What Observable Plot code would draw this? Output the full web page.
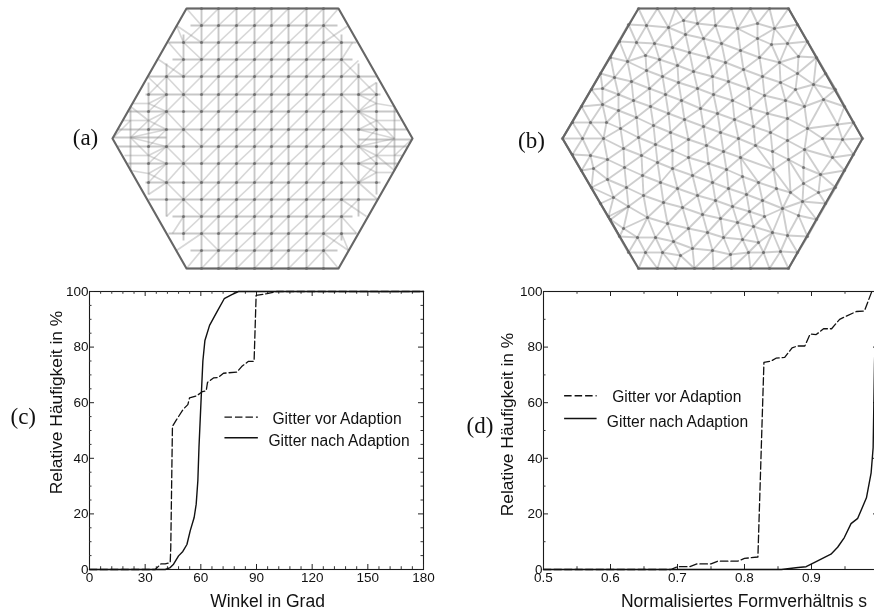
<!DOCTYPE html>
<html><head><meta charset="utf-8">
<script src="https://cdn.jsdelivr.net/npm/d3@7"></script>
<script src="https://cdn.jsdelivr.net/npm/@observablehq/plot@0.6"></script>
<style>
html,body{margin:0;padding:0;background:#fff;overflow:hidden}
#page{position:relative;width:874px;height:611px;overflow:hidden;background:#fff}
#page>svg,#page>figure{position:absolute;margin:0;background:transparent}
text{fill:#111}
</style></head><body><div id="page"></div>
<script>
// ---- mesh (a)
const hexA = [[112,138],[186,8],[338,8],[412,138],[338,268],[186,268],[112,138]];
const colSpansA = [[148,82,194],[166,63,216],[183,34,240],[201,8,268],[218,8,268],[236,8,268],[254,8,268],[271,8,268],[288,8,268],[306,8,268],[323,8,268],[341,34,240],[358,63,216],[376,82,194]];
const rowSpansA = [[8,186,338],[25,190,337],[42,168,356],[59,172,352],[76,148,377],[94,145,380],[111,127,397],[129,117,407],[146,117,407],[163,127,397],[182,145,380],[199,148,377],[216,172,352],[233,168,356],[250,190,337],[268,186,338]];
const centreRowsA = [[112,137,166,137],[358,139,412,139],[130,106,130,170],[394,106,394,170]];
const backslashCellsA = [[183,42],[166,76],[183,94],[166,111],[183,129],[166,146],[183,163],[166,182],[183,199],[201,233],[341,216],[358,182],[341,163],[358,146],[341,129],[358,111],[341,94],[358,76],[341,59],[323,25]];
const fanLinksA = [[186,8,201,25],[176,25,183,42],[176,25,201,42],[168,42,183,59],[158,59,183,76],[147,76,166,94],[148,103,166,94],[148,103,166,111],[148,120,166,111],[148,120,166,129],[148,103,132,103],[148,120,122,120],[130,106,148,120],[112,138,130,120],[130,137,148,120],[130,137,148,155],[130,137,166,146],[130,137,166,129],[148,155,166,146],[148,155,166,163],[148,173,166,163],[148,173,166,182],[148,173,130,170],[148,155,124,155],[148,194,166,182],[166,216,183,199],[172,233,183,216],[176,250,201,233],[186,268,201,250],
  [338,268,323,250],[348,250,341,233],[348,250,323,233],[356,233,341,216],[366,216,341,199],[377,199,358,182],[376,172,358,182],[376,172,358,163],[376,155,358,163],[376,155,358,146],[376,172,392,172],[376,155,402,155],[394,170,376,155],[412,138,394,155],[394,138,376,155],[394,138,376,120],[394,138,358,129],[394,138,358,146],[376,120,358,129],[376,120,358,111],[376,103,358,111],[376,103,358,94],[376,103,394,106],[376,120,400,120],[376,82,358,94],[358,60,341,76],[352,42,341,59],[348,25,323,42],[338,8,323,25]];

// ---- mesh (b)
const hexB = [[562,138],[638,8],[788,8],[862,138],[788,268],[638,268],[562,138]];
const nodesB = [
[638,8],[657,8],[675,8],[694,8],[713,8],[731,8],[750,8],[769,8],[788,8],
[797,24],[807,41],[816,57],[825,73],[835,89],[844,106],[853,122],[862,138],
[853,154],[844,170],[835,187],[825,203],[816,219],[807,236],[797,252],[788,268],
[769,268],[750,268],[731,268],[713,268],[694,268],[675,268],[657,268],[638,268],
[628,252],[619,236],[610,219],[600,203],[591,187],[581,170],[572,154],[562,138],
[572,122],[581,106],[591,89],[600,73],[610,57],[619,41],[628,24],
[646,25],[668,27],[683,20],[697,23],[636,42],[654,43],[672,47],[685,34],[703,38],
[645,55],[627,61],[659,59],[689,52],[708,57],[677,65],[614,77],[631,81],[646,70],[662,76],[678,82],[693,71],[712,76],
[602,88],[618,94],[633,100],[649,88],[665,94],[681,100],[697,88],[602,104],[618,110],[636,117],[650,106],[668,113],[684,119],[700,108],
[590,122],[606,122],[620,128],[653,125],[703,126],[670,132],[688,139],[706,145],
[715,25],[737,28],[757,23],[774,28],[721,43],[740,50],[757,38],[771,44],[787,43],[725,62],[743,69],[759,57],[779,62],[797,73],[798,56],
[728,81],[748,88],[762,76],[780,82],[813,84],[795,89],[713,94],[732,100],[750,108],[764,95],[785,100],[804,106],[823,99],
[717,113],[734,119],[753,126],[767,113],[787,118],[807,128],[837,124],[720,132],[770,132],
[582,138],[603,138],[590,155],[607,159],[623,148],[638,137],[655,144],[672,150],[688,157],[593,168],[624,167],[641,155],[657,162],[672,168],
[607,179],[642,175],[626,187],[660,182],[677,188],[692,175],[708,163],[613,197],[643,195],[663,202],[682,207],[697,195],[712,182],
[628,206],[647,217],[667,223],[702,214],[608,216],[623,228],[637,237],[655,237],[673,241],[692,248],[707,232],[645,252],[662,252],[680,255],[712,250],[688,228],
[723,151],[740,157],[726,169],[742,176],[758,182],[773,169],[755,145],[772,151],[788,159],[803,167],[820,174],[832,157],[803,183],[818,192],[776,188],
[728,188],[746,194],[762,200],[782,208],[802,201],[790,192],[715,200],[732,206],[749,211],[764,216],[798,215],[720,218],[737,222],[753,226],[772,232],
[723,237],[742,239],[758,242],[787,235],[730,254],[748,252],[763,252],[780,251],[738,138],[787,140],[804,149],[822,138],[842,139]
];

// ---- chart (c): angle distribution
const anglesBefore = [[0,0],[35.4,0],[38.5,2],[40.8,2],[43.5,2.5],[43.8,8],[44.7,51.5],[47,54],[50.6,57.7],[53,59.3],[53.9,61.7],[57.8,62.5],[60.9,64],[62.9,64.3],[63.6,67.3],[66.8,68.9],[69.5,69.1],[72.2,70.6],[79.4,71],[82,73],[85.7,74.9],[88.7,74.9],[89.8,98.6],[95.6,99.2],[101,100],[180,100]];
const anglesAfter = [[0,0],[40.8,0],[43.5,0.7],[45.3,1.9],[48,4.9],[50.3,6.5],[52.5,9],[54.3,14],[56.4,18.7],[57.5,23.5],[58.4,32],[59,44],[60.2,62],[61.1,75],[62.2,82.4],[64.7,87.8],[68.6,92.6],[72.6,97.4],[76.7,98.9],[80.3,100],[180,100]];
const angleTicks = [0,30,60,90,120,150,180];
const angleMinor = [6,12,18,24,36,42,48,54,66,72,78,84,96,102,108,114,126,132,138,144,156,162,168,174];
const percentTicks = [0,20,40,60,80,100];
const percentMinorC = [5,10,15,25,30,35,45,50,55,65,70,75,85,90,95];

// ---- chart (d): shape ratio distribution
const shapeBefore = [[0.5,0],[0.69,0],[0.70,1],[0.718,1],[0.729,2],[0.75,2],[0.76,3],[0.79,3],[0.80,4],[0.82,4.5],[0.829,74.5],[0.84,75],[0.847,76],[0.86,76.3],[0.871,79.7],[0.879,80.4],[0.89,80.4],[0.898,84.7],[0.907,84.5],[0.918,86.6],[0.93,86.6],[0.942,90],[0.967,92.8],[0.979,93],[0.99,100]];
const shapeAfter = [[0.5,0],[0.855,0],[0.88,0.7],[0.892,1],[0.904,2.5],[0.929,5.5],[0.939,8],[0.949,11.5],[0.959,16.5],[0.969,18.4],[0.982,25.8],[0.989,34.8],[0.992,43.8],[0.994,73.7],[0.997,100]];
const shapeTicks = [0.5,0.6,0.7,0.8,0.9];
const shapeMinor = [0.55,0.65,0.75,0.85,0.95,1.0];
const percentMinorD = [10,30,50,70,90];

const legendLabels = ["Gitter vor Adaption","Gitter nach Adaption"];
const sans = "'Liberation Sans',Arimo,Helvetica,Arial,sans-serif";
const serif = "'Liberation Serif',Times,serif";
const page = document.getElementById("page");
function place(el,left,top,filter){el.style.left=left+"px";el.style.top=top+"px";if(filter)el.style.filter=filter;page.appendChild(el);}

// Mesh (a): structured grid links plus lighter diagonals
const ysA = rowSpansA.map(r=>r[0]), xsA = colSpansA.map(c=>c[0]);
const linksA = [], diagsA = [];
rowSpansA.forEach(([y,a,b])=>linksA.push([a,y,b,y]));
colSpansA.forEach(([x,a,b])=>linksA.push([x,a,x,b]));
centreRowsA.forEach(l=>linksA.push(l));
fanLinksA.forEach(l=>diagsA.push(l));
const inA = (x,y)=>{const r=rowSpansA.find(d=>d[0]===y),c=colSpansA.find(d=>d[0]===x);return r&&c&&x>=r[1]&&x<=r[2]&&y>=c[1]&&y<=c[2];};
const isBack = (x,y)=>backslashCellsA.some(d=>d[0]===x&&d[1]===y);
const nodesA = [];
xsA.forEach(x=>ysA.forEach(y=>{if(inA(x,y))nodesA.push([x,y]);}));
for(let i=0;i<xsA.length-1;i++)for(let j=0;j<ysA.length-1;j++){
  const x0=xsA[i],x1=xsA[i+1],y0=ysA[j],y1=ysA[j+1];
  if(isBack(x0,y0)){ if(inA(x0,y0)&&inA(x1,y1)) diagsA.push([x0,y0,x1,y1]); }
  else if(inA(x0,y1)&&inA(x1,y0)) diagsA.push([x0,y1,x1,y0]);
}
const meshStyle = {stroke:"#8a8a8a",strokeOpacity:0.48,strokeWidth:1.9};
const diagStyle = {stroke:"#8a8a8a",strokeOpacity:0.34,strokeWidth:1.7};
const nodeStyle = {r:1.6,fill:"#444",fillOpacity:0.55};
const hexStyle = {stroke:"#666",strokeWidth:2.1,strokeLinejoin:"round"};
place(Plot.plot({
  width:370,height:280,margin:0,
  x:{domain:[60,430],range:[0,370],axis:null},
  y:{domain:[0,280],range:[0,280],axis:null},
  style:{background:"transparent",overflow:"visible"},
  marks:[
    Plot.link(diagsA,{x1:d=>d[0],y1:d=>d[1],x2:d=>d[2],y2:d=>d[3],...diagStyle}),
    Plot.link(linksA,{x1:d=>d[0],y1:d=>d[1],x2:d=>d[2],y2:d=>d[3],...meshStyle}),
    Plot.dot(nodesA,{x:d=>d[0],y:d=>d[1],...nodeStyle}),
    Plot.line(hexA,{x:d=>d[0],y:d=>d[1],...hexStyle}),
    Plot.text(["(a)"],{x:()=>85,y:()=>137,text:d=>d,fontFamily:serif,fontSize:23,fill:"#111"})
  ]
}),60,0,"blur(0.6px)");

// Mesh (b): triangulated nodes
place(Plot.plot({
  width:364,height:280,margin:0,
  x:{domain:[510,874],range:[0,364],axis:null},
  y:{domain:[0,280],range:[0,280],axis:null},
  style:{background:"transparent",overflow:"visible"},
  marks:[
    Plot.delaunayLink(nodesB,{x:d=>d[0],y:d=>d[1],...meshStyle,strokeOpacity:0.42}),
    Plot.dot(nodesB,{x:d=>d[0],y:d=>d[1],...nodeStyle}),
    Plot.line(hexB,{x:d=>d[0],y:d=>d[1],...hexStyle}),
    Plot.text(["(b)"],{x:()=>531,y:()=>140,text:d=>d,fontFamily:serif,fontSize:23,fill:"#111"})
  ]
}),510,0,"blur(0.6px)");

function chart({left,width,marginLeft,marginRight,xDomain,xTicks,xMinor,xFormat,yMinor,before,after,xTitle,xTitleDx,tag,tagDx,tagDy,yTitleDx,yTitleDy,legendX,legendTextX,legendY}){
  const yTick = (xDomain[1]-xDomain[0])*5/(width-marginLeft-marginRight);
  return place(Plot.plot({
    width,height:331,marginLeft,marginRight,marginTop:11,marginBottom:42,
    x:{domain:xDomain,axis:null},
    y:{domain:[0,100],axis:null},
    style:{background:"transparent",overflow:"visible",fontFamily:sans,color:"#111"},
    marks:[
      Plot.frame({stroke:"#1a1a1a",strokeWidth:1.1}),
      Plot.ruleX(xTicks,{y1:0,y2:1.8,stroke:"#222"}),
      Plot.ruleX(xTicks,{y1:98.2,y2:100,stroke:"#222"}),
      Plot.ruleX(xMinor,{y1:0,y2:1,stroke:"#333"}),
      Plot.ruleX(xMinor,{y1:99,y2:100,stroke:"#333"}),
      Plot.ruleY(percentTicks,{x1:xDomain[0],x2:xDomain[0]+yTick,stroke:"#222"}),
      Plot.ruleY(percentTicks,{x1:xDomain[1]-yTick,x2:xDomain[1],stroke:"#222"}),
      Plot.ruleY(yMinor,{x1:xDomain[0],x2:xDomain[0]+yTick/2,stroke:"#333"}),
      Plot.ruleY(yMinor,{x1:xDomain[1]-yTick/2,x2:xDomain[1],stroke:"#333"}),
      Plot.axisX({ticks:xTicks,tickSize:0,tickPadding:3,label:null,tickFormat:xFormat,fontSize:13.5,anchor:"bottom"}),
      Plot.axisY({ticks:percentTicks,tickSize:0,tickPadding:1,label:null,fontSize:13.5,anchor:"left"}),
      Plot.text([xTitle],{frameAnchor:"bottom",dx:xTitleDx,dy:37,text:d=>d,fontSize:17.5,fill:"#111"}),
      Plot.text(["Relative Häufigkeit in %"],{frameAnchor:"left",dx:yTitleDx,dy:yTitleDy,rotate:-90,textAnchor:"middle",text:d=>d,fontSize:17.4,fill:"#111"}),
      Plot.text([tag],{frameAnchor:"left",dx:tagDx,dy:tagDy,text:d=>d,fontFamily:serif,fontSize:23,fill:"#111"}),
      Plot.line(before,{x:d=>d[0],y:d=>d[1],stroke:"#111",strokeWidth:1.3,strokeDasharray:"7.5,3"}),
      Plot.line(after,{x:d=>d[0],y:d=>d[1],stroke:"#111",strokeWidth:1.4}),
      Plot.ruleY([legendY[0]],{x1:legendX[0],x2:legendX[1],stroke:"#111",strokeWidth:1.3,strokeDasharray:"7.5,3"}),
      Plot.ruleY([legendY[1]],{x1:legendX[0],x2:legendX[1],stroke:"#111",strokeWidth:1.6}),
      Plot.text([legendLabels[0]],{x:()=>legendTextX[0],y:()=>legendY[0]-0.6,text:d=>d,textAnchor:"start",fontSize:15.6,fill:"#111"}),
      Plot.text([legendLabels[1]],{x:()=>legendTextX[1],y:()=>legendY[1]-1.2,text:d=>d,textAnchor:"start",fontSize:15.6,fill:"#111"})
    ]
  }),left,280,"blur(0.3px)");
}

chart({left:0,width:437,marginLeft:89,marginRight:14,xDomain:[0,180],xTicks:angleTicks,xMinor:angleMinor,xFormat:d=>String(d),yMinor:percentMinorC,before:anglesBefore,after:anglesAfter,xTitle:"Winkel in Grad",xTitleDx:11,tag:"(c)",tagDx:-79,tagDy:-14,yTitleDx:-33,yTitleDy:-28,legendX:[73,91],legendTextX:[98.6,96.4],legendY:[54.8,47.4]});
chart({left:437,width:441,marginLeft:106,marginRight:0,xDomain:[0.5,1.0],xTicks:shapeTicks,xMinor:shapeMinor,xFormat:d3.format(".1f"),yMinor:percentMinorD,before:shapeBefore,after:shapeAfter,xTitle:"Normalisiertes Formverhältnis s",xTitleDx:33,tag:"(d)",tagDx:-77,tagDy:-5,yTitleDx:-36,yTitleDy:-6,legendX:[0.5315,0.58],legendTextX:[0.6025,0.5945],legendY:[62.5,54.3]});
</script></body></html>
